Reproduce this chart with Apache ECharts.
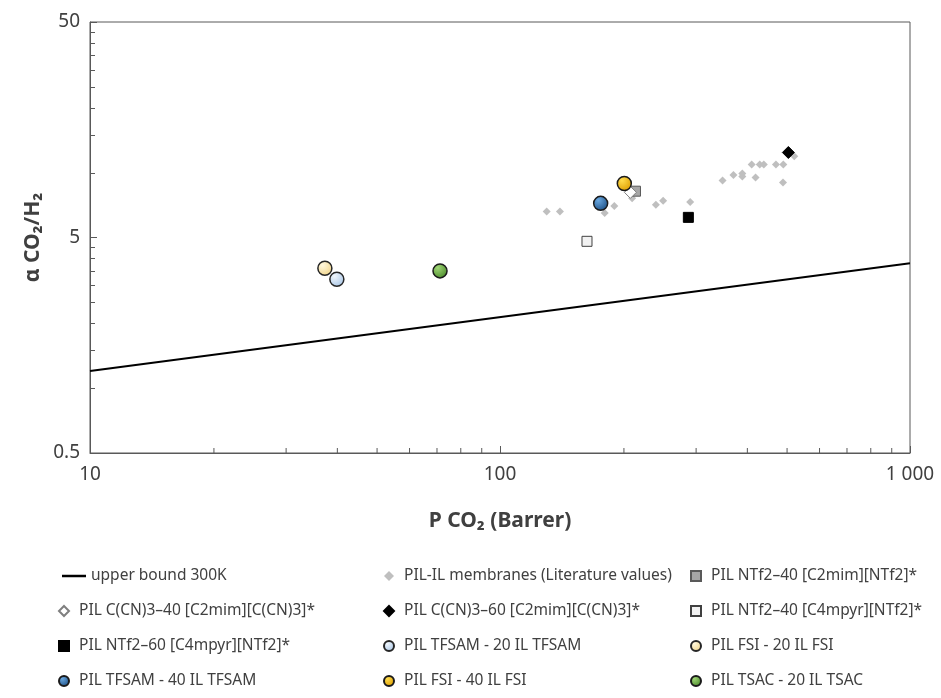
<!DOCTYPE html>
<html>
<head>
<meta charset="utf-8">
<script src="https://cdn.jsdelivr.net/npm/echarts@6/dist/echarts.min.js"></script>
<style>
  html, body { margin: 0; padding: 0; background: #fff; }
  #chart { width: 941px; height: 698px; }
</style>
</head>
<body>
<div id="chart"></div>
<script>
const FONT = 'Noto Sans';

// upper bound line (Robeson 300K)
const upperBoundP = [10, 1000];
const upperBoundAlpha = [1.2, 3.8];

// PIL-IL literature values
const literatureP = [130, 140, 180, 190, 210, 240, 250, 291, 349, 371, 390, 390, 420, 411, 430, 440, 471, 491, 490, 522];
const literatureAlpha = [6.6, 6.6, 6.5, 7.0, 7.6, 7.1, 7.4, 7.3, 9.2, 9.75, 9.9, 9.6, 9.5, 10.9, 10.9, 10.9, 10.9, 10.9, 9.0, 11.9];

// this work
const markerNames = [
  'PIL NTf2–40 [C2mim][NTf2]*',
  'PIL C(CN)3–40 [C2mim][C(CN)3]*',
  'PIL C(CN)3–60 [C2mim][C(CN)3]*',
  'PIL NTf2–40 [C4mpyr][NTf2]*',
  'PIL NTf2–60 [C4mpyr][NTf2]*',
  'PIL TFSAM - 20 IL TFSAM',
  'PIL FSI - 20 IL FSI',
  'PIL TFSAM - 40 IL TFSAM',
  'PIL FSI - 40 IL FSI',
  'PIL TSAC - 20 IL TSAC'
];
const markerP = [214, 208, 505, 163, 288, 40.0, 37.4, 176, 201, 71.4];
const markerAlpha = [8.2, 8.1, 12.4, 4.8, 6.2, 3.2, 3.6, 7.2, 8.9, 3.5];

// axis ticks
const xMinorTicks = [20, 30, 40, 50, 60, 70, 80, 90, 200, 300, 400, 500, 600, 700, 800, 900];
const yMajorTicks = [0.5, 5, 50];
const yTickLabels = ['0.5', '5', '50'];
const yMinorTicks = [1, 1.5, 2, 2.5, 3, 3.5, 4, 4.5, 10, 15, 20, 25, 30, 35, 40, 45];

const legendColumns = [
  ['PIL C(CN)3–40 [C2mim][C(CN)3]*', 'PIL NTf2–60 [C4mpyr][NTf2]*', 'PIL TFSAM - 40 IL TFSAM'],
  ['PIL-IL membranes (Literature values)', 'PIL C(CN)3–60 [C2mim][C(CN)3]*', 'PIL TFSAM - 20 IL TFSAM', 'PIL FSI - 40 IL FSI'],
  ['PIL NTf2–40 [C2mim][NTf2]*', 'PIL NTf2–40 [C4mpyr][NTf2]*', 'PIL FSI - 20 IL FSI', 'PIL TSAC - 20 IL TSAC']
];

function ball(light, dark) {
  return {
    type: 'radial', x: 0.35, y: 0.3, r: 0.75,
    colorStops: [{ offset: 0, color: light }, { offset: 1, color: dark }]
  };
}

const markerStyles = [
  { symbol: 'rect', size: 10, fill: '#a6a6a6', stroke: '#595959' },
  { symbol: 'diamond', size: 12, fill: '#ffffff', stroke: '#7f7f7f' },
  { symbol: 'diamond', size: 12, fill: '#000000', stroke: '#000000' },
  { symbol: 'rect', size: 10, fill: '#f2f2f2', stroke: '#404040' },
  { symbol: 'rect', size: 10, fill: '#000000', stroke: '#000000' },
  { symbol: 'circle', size: 14, fill: ball('#f1f7fd', '#a9c6e6'), stroke: '#262626' },
  { symbol: 'circle', size: 14, fill: ball('#fff8de', '#f0d48a'), stroke: '#262626' },
  { symbol: 'circle', size: 14, fill: ball('#6aa8e0', '#1c4f85'), stroke: '#1a1a1a' },
  { symbol: 'circle', size: 14, fill: ball('#ffdc4d', '#dc9d00'), stroke: '#1a1a1a' },
  { symbol: 'circle', size: 14, fill: ball('#a0d676', '#4a8a2a'), stroke: '#1a1a1a' }
];

const axisColor = '#595959';
const textColor = '#404040';

const series = [
  {
    name: 'upper bound 300K',
    type: 'line',
    data: upperBoundP.map((p, i) => [p, upperBoundAlpha[i]]),
    symbol: 'none',
    lineStyle: { color: '#000', width: 2 },
    itemStyle: { color: '#000' },
    z: 2
  },
  {
    name: 'PIL-IL membranes (Literature values)',
    type: 'scatter',
    data: literatureP.map((p, i) => [p, literatureAlpha[i]]),
    symbol: 'diamond',
    symbolSize: 8,
    itemStyle: { color: '#bfbfbf', opacity: 1 },
    z: 3
  }
];

markerNames.forEach((name, i) => {
  const s = markerStyles[i];
  series.push({
    name: name,
    type: 'scatter',
    data: [[markerP[i], markerAlpha[i]]],
    symbol: s.symbol,
    symbolSize: s.size,
    itemStyle: {
      color: s.fill,
      borderColor: s.stroke,
      borderWidth: s.symbol === 'circle' ? 1.5 : 1,
      opacity: 1
    },
    z: s.symbol === 'circle' ? 5 : 4
  });
});

// minor ticks on the x axis
series.push({
  type: 'custom',
  silent: true,
  clip: false,
  data: xMinorTicks.map(v => [v, yMajorTicks[0]]),
  renderItem: function (params, api) {
    const p = api.coord([api.value(0), api.value(1)]);
    return {
      type: 'line',
      shape: { x1: p[0] + 0.5, y1: p[1], x2: p[0] + 0.5, y2: p[1] - 5 },
      style: { stroke: axisColor, lineWidth: 1 }
    };
  },
  z: 1
});

// ticks and labels on the y axis
series.push({
  type: 'custom',
  silent: true,
  clip: false,
  dimensions: ['x', 'y', 'major', 'label'],
  data: yMinorTicks.map(v => [10, v, 0, -1]).concat(yMajorTicks.map((v, i) => [10, v, 1, i])),
  renderItem: function (params, api) {
    const p = api.coord([api.value(0), api.value(1)]);
    const major = api.value(2) === 1;
    const y = Math.round(p[1]) + 0.5;
    const children = [{
      type: 'line',
      shape: { x1: p[0], y1: y, x2: p[0] + (major ? 7 : 5), y2: y },
      style: { stroke: axisColor, lineWidth: 1 }
    }];
    if (major) {
      children.push({
        type: 'text',
        x: p[0] - 10,
        y: p[1],
        style: {
          text: yTickLabels[api.value(3)],
          textAlign: 'right',
          textVerticalAlign: 'middle',
          fontSize: 19,
          fontFamily: FONT,
          fill: textColor
        }
      });
    }
    return { type: 'group', children: children };
  },
  z: 1
});

function legendBase(left, top, data) {
  return {
    orient: 'vertical',
    left: left,
    top: top,
    data: data,
    itemWidth: 10,
    itemHeight: 10,
    itemGap: 19,
    selectedMode: false,
    textStyle: { fontFamily: FONT, fontSize: 15.5, color: textColor, lineHeight: 16, padding: [0, 0, 0, 5] }
  };
}

const legends = [
  Object.assign(legendBase(57, 563, [{ name: 'upper bound 300K', icon: 'rect' }]), {
    itemWidth: 24, itemHeight: 2.5,
    textStyle: { fontFamily: FONT, fontSize: 15.5, color: textColor, lineHeight: 16 }
  }),
  legendBase(53, 598, legendColumns[0]),
  legendBase(378, 563, legendColumns[1]),
  legendBase(685, 563, legendColumns[2])
];

const chart = echarts.init(document.getElementById('chart'), null, { renderer: 'canvas' });

chart.setOption({
  animation: false,
  backgroundColor: '#ffffff',
  textStyle: { fontFamily: FONT },
  grid: {
    left: 90, right: 31, top: 22, bottom: 245,
    show: true, borderColor: axisColor, borderWidth: 1, backgroundColor: 'transparent'
  },
  legend: legends,
  xAxis: {
    type: 'log',
    logBase: 10,
    min: 10,
    max: 1000,
    name: 'P CO₂ (Barrer)',
    nameLocation: 'middle',
    nameGap: 58,
    nameTextStyle: { fontFamily: FONT, fontSize: 21, fontWeight: 'bold', color: textColor },
    axisLine: { lineStyle: { color: axisColor, width: 1 } },
    axisTick: { inside: true, length: 7, lineStyle: { color: axisColor } },
    axisLabel: {
      margin: 12,
      fontFamily: FONT,
      fontSize: 19,
      color: textColor,
      formatter: v => Math.round(v) === 1000 ? '1 000' : String(Math.round(v))
    },
    splitLine: { show: false }
  },
  yAxis: {
    type: 'log',
    logBase: 10,
    min: 0.5,
    max: 50,
    name: 'α CO₂/H₂',
    nameLocation: 'middle',
    nameGap: 46,
    nameRotate: 90,
    nameTextStyle: { fontFamily: FONT, fontSize: 21, fontWeight: 'bold', color: textColor },
    axisLine: { lineStyle: { color: axisColor, width: 1 } },
    axisTick: { show: false },
    axisLabel: { show: false },
    splitLine: { show: false }
  },
  series: series
});
</script>
</body>
</html>
